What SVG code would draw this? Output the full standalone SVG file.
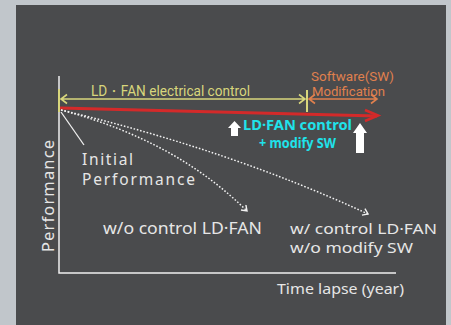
<svg xmlns="http://www.w3.org/2000/svg" width="451" height="325" viewBox="0 0 451 325">
<defs>
<style>
.t{font-family:"Noto Sans","Open Sans","DejaVu Sans",sans-serif;fill:#e6e6e6;}
.y{font-family:"Liberation Sans Narrow","Roboto","Noto Sans",sans-serif;fill:#d8d67c;}
.o{font-family:"Roboto","Noto Sans",sans-serif;fill:#e0804e;}
.c{font-family:"Noto Sans","Roboto",sans-serif;fill:#20e2ea;font-weight:bold;}
.dot{fill:none;stroke:#f2f2f2;stroke-width:1.5;stroke-dasharray:1.6 1.8;}
</style>
<marker id="dh" markerWidth="10" markerHeight="10" refX="6" refY="4" orient="auto" markerUnits="userSpaceOnUse">
<path d="M1,0.5 L6,4 L1,7.5" fill="none" stroke="#f2f2f2" stroke-width="1.4"/>
</marker>
</defs>
<rect x="0" y="0" width="451" height="325" fill="#c1c6cb"/>
<rect x="16" y="5" width="430" height="320" fill="#4a4b4d"/>
<g id="axes" stroke="#f0f0f0" stroke-width="1.5" fill="none">
<path d="M59,76 V273 H396"/>
</g>
<g id="connectors">
<path d="M59,89 V112 M307,90 V112" stroke="#d8d67c" stroke-width="2"/>
<path d="M61,99 H305 M67,94.5 L61,99 L67,103.5 M299,94.5 L305,99 L299,103.5" fill="none" stroke="#d8d67c" stroke-width="1.6"/>
<path d="M309,99 H377 M315,94.5 L309,99 L315,103.5 M371,94.5 L377,99 L371,103.5" fill="none" stroke="#e0804e" stroke-width="1.6"/>
<path d="M60,108 L377,116" stroke="#d42a2a" stroke-width="3" fill="none"/>
<path d="M365,110 L378,115.5 L365,121" stroke="#d42a2a" stroke-width="2.6" fill="none"/>
<path class="dot" d="M61,110 Q175,140 247,211" marker-end="url(#dh)"/>
<path class="dot" d="M61,110 Q230,150 368,214" marker-end="url(#dh)"/>
<path d="M61,112 L84,145" stroke="#f0f0f0" stroke-width="1.3"/>
<polygon points="234.5,121 241,128 238,128 238,136 231,136 231,128 228,128" fill="#ffffff"/>
<polygon points="360,123 367,133 364,133 364,153 356,153 356,133 353,133" fill="#ffffff"/>
</g>
<g id="label-yaxis"><text class="t" transform="translate(53.5,196) rotate(-90)" text-anchor="middle" font-size="16.5" textLength="112">Performance</text></g>
<g id="label-ld"><text class="y" x="91" y="96" font-size="14" textLength="159" lengthAdjust="spacingAndGlyphs">LD・FAN electrical control</text></g>
<g id="label-sw"><text class="o" x="311" y="81" font-size="13" textLength="83" lengthAdjust="spacingAndGlyphs">Software(SW)</text>
<text class="o" x="312" y="96" font-size="13" textLength="73" lengthAdjust="spacingAndGlyphs">Modification</text></g>
<g id="label-cyan"><text class="c" x="243" y="130" font-size="14.5" textLength="109" lengthAdjust="spacingAndGlyphs">LD·FAN control</text>
<text class="c" x="259" y="148" font-size="14" font-weight="normal" textLength="77" lengthAdjust="spacingAndGlyphs">+ modify SW</text></g>
<g id="label-initial"><text class="t" x="82" y="165" font-size="15.5" textLength="51">Initial</text>
<text class="t" x="82" y="185" font-size="15.5" textLength="113">Performance</text></g>
<g id="label-wo"><text class="t" x="103" y="234" font-size="15.5" textLength="159" lengthAdjust="spacingAndGlyphs">w/o control LD·FAN</text></g>
<g id="label-w"><text class="t" x="290" y="234" font-size="14.5" textLength="147" lengthAdjust="spacingAndGlyphs">w/ control LD·FAN</text>
<text class="t" x="290" y="253" font-size="14.5" textLength="123" lengthAdjust="spacingAndGlyphs">w/o modify SW</text></g>
<g id="label-time"><text class="t" x="277" y="294" font-size="13.5" textLength="127" lengthAdjust="spacingAndGlyphs">Time lapse (year)</text></g>
</svg>
